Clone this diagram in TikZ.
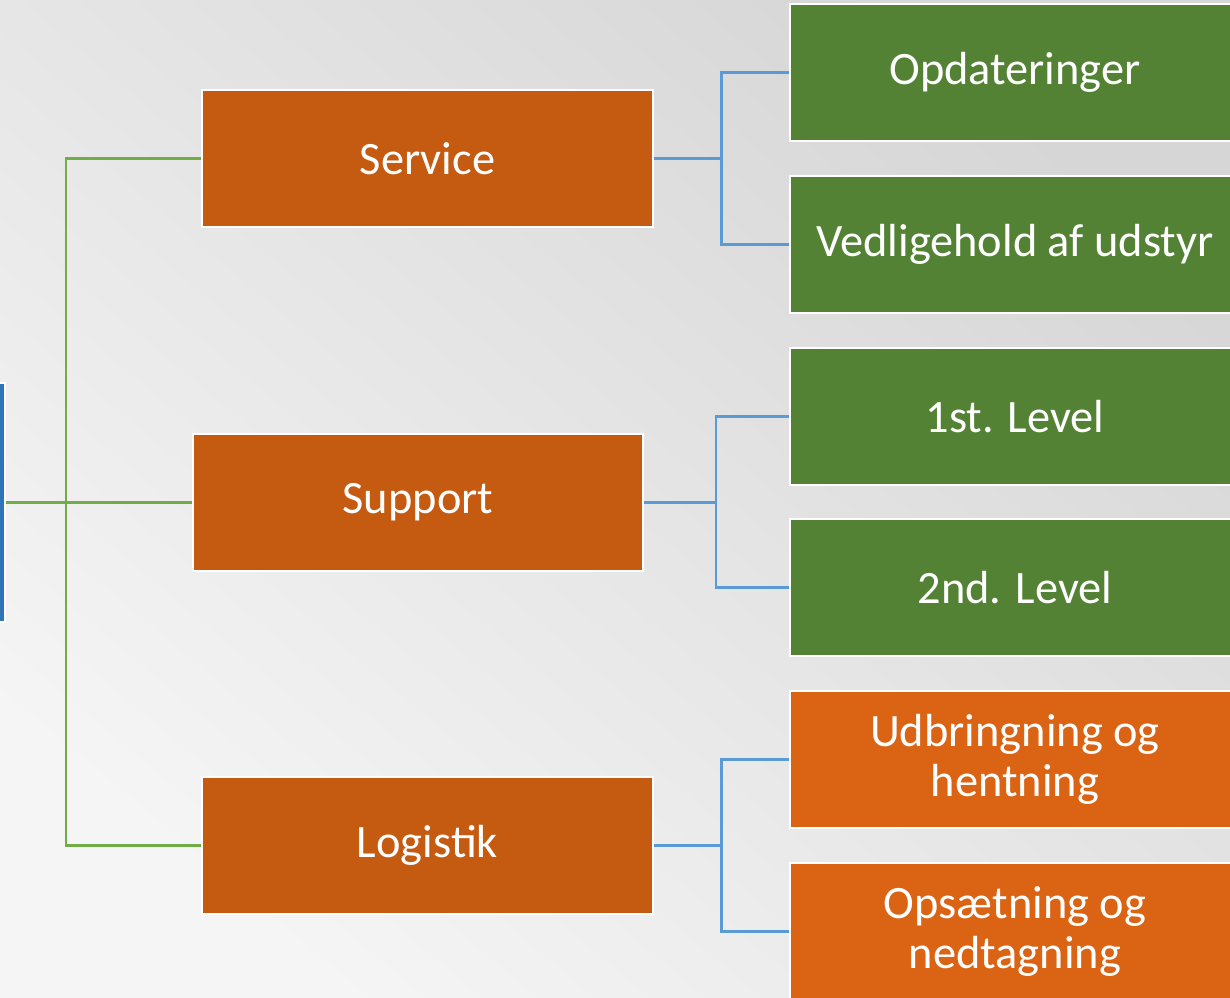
\documentclass[tikz,border=0pt]{standalone}
\usepackage{fontspec}
\setmainfont{Carlito}
\definecolor{rootblue}{HTML}{2E75B6}
\definecolor{darkorange}{HTML}{C55A11}
\definecolor{lightorange}{HTML}{DA6314}
\definecolor{leafgreen}{HTML}{548235}
\definecolor{linegreen}{HTML}{70AD47}
\definecolor{lineblue}{HTML}{5B9BD5}
\tikzset{
	box/.style={draw=white,line width=1.5pt,text=white,align=center,
		minimum width=11.25cm,minimum height=3.425cm,inner sep=0pt,
		font=\fontsize{33}{35.5}\selectfont},
	mainbox/.style={box,fill=darkorange},
	greenbox/.style={box,fill=leafgreen},
	orangebox/.style={box,fill=lightorange},
	greenline/.style={draw=linegreen,line width=1.5pt},
	blueline/.style={draw=lineblue,line width=1.5pt}
}
\begin{document}
\begin{tikzpicture}[x=0.025cm,y=-0.025cm]
			\useasboundingbox (0,0) rectangle (1230,998);
			\shade[top color=gray!32,bottom color=gray!8,shading angle=-40] (0,0) rectangle (1230,998);
			\node[box,fill=rootblue,minimum width=6cm,minimum height=5.975cm] (root) at (-115,502.5) {};
			\node[mainbox] (service) at (427.5,158.5) {Service};
			\node[mainbox] (support) at (418,502.5) {Support};
			\node[mainbox] (logistik) at (427.5,845.5) {Logistik};
			\node[greenbox] (opd) at (1015,72.5) {Opdateringer};
			\node[greenbox] (vedl) at (1015,244.5) {Vedligehold af udstyr};
			\node[greenbox] (first) at (1015,416.5) {1st. Level};
			\node[greenbox] (second) at (1015,587.5) {2nd. Level};
			\node[orangebox] (udbr) at (1015,759.5) {Udbringning og\\hentning};
			\node[orangebox] (opsae) at (1015,931.5) {Opsætning og\\nedtagning};
			\coordinate (trunk) at (66,502.5);
			\draw[greenline] (root) -- (support);
			\draw[greenline] (trunk) |- (service);
			\draw[greenline] (trunk) |- (logistik);
			\draw[blueline] (service) -- ++(294,0) |- (opd);
			\draw[blueline] (service) -- ++(294,0) |- (vedl);
			\draw[blueline] (support) -- ++(298,0) |- (first);
			\draw[blueline] (support) -- ++(298,0) |- (second);
			\draw[blueline] (logistik) -- ++(294,0) |- (udbr);
			\draw[blueline] (logistik) -- ++(294,0) |- (opsae);
		\end{tikzpicture}
\end{document}
